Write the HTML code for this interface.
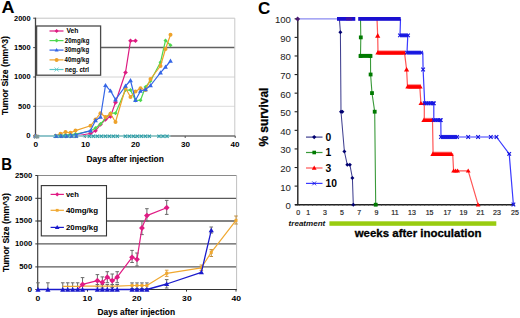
<!DOCTYPE html><html><head><meta charset="utf-8"><style>html,body{margin:0;padding:0;background:#fff;}svg{display:block;}</style></head><body>
<svg width="520" height="318" viewBox="0 0 520 318" font-family='"Liberation Sans", sans-serif'>
<rect width="520" height="318" fill="#fff"/>
<line x1="35.5" y1="18.2" x2="234.8" y2="18.2" stroke="#c4c4c4" stroke-width="1"/>
<line x1="35.5" y1="77" x2="234.8" y2="77" stroke="#d4d4d4" stroke-width="1"/>
<line x1="35.5" y1="106.3" x2="234.8" y2="106.3" stroke="#dcdcdc" stroke-width="1"/>
<line x1="35.5" y1="47.6" x2="234.8" y2="47.6" stroke="#606060" stroke-width="1.5"/>
<line x1="234.8" y1="18.2" x2="234.8" y2="136" stroke="#c8c8c8" stroke-width="1"/>
<line x1="35.5" y1="17.7" x2="35.5" y2="136.2" stroke="#444" stroke-width="1.3"/>
<line x1="35.5" y1="136" x2="235.3" y2="136" stroke="#707070" stroke-width="1.3"/>
<line x1="33.2" y1="18.2" x2="35.5" y2="18.2" stroke="#444" stroke-width="1"/>
<line x1="33.2" y1="47.6" x2="35.5" y2="47.6" stroke="#444" stroke-width="1"/>
<line x1="33.2" y1="77" x2="35.5" y2="77" stroke="#444" stroke-width="1"/>
<line x1="33.2" y1="106.3" x2="35.5" y2="106.3" stroke="#444" stroke-width="1"/>
<line x1="33.2" y1="135.7" x2="35.5" y2="135.7" stroke="#444" stroke-width="1"/>
<line x1="85.2" y1="136" x2="85.2" y2="138" stroke="#555" stroke-width="1"/>
<line x1="135.2" y1="136" x2="135.2" y2="138" stroke="#555" stroke-width="1"/>
<line x1="185.2" y1="136" x2="185.2" y2="138" stroke="#555" stroke-width="1"/>
<line x1="235.2" y1="136" x2="235.2" y2="138" stroke="#555" stroke-width="1"/>
<text x="14.1" y="20.5" font-size="6.4" font-weight="bold" font-style="normal" fill="#000" textLength="16.5" lengthAdjust="spacingAndGlyphs">2000</text>
<text x="14.1" y="49.9" font-size="6.4" font-weight="bold" font-style="normal" fill="#000" textLength="16.5" lengthAdjust="spacingAndGlyphs">1500</text>
<text x="14.1" y="79.3" font-size="6.4" font-weight="bold" font-style="normal" fill="#000" textLength="16.5" lengthAdjust="spacingAndGlyphs">1000</text>
<text x="18.1" y="108.6" font-size="6.4" font-weight="bold" font-style="normal" fill="#000" textLength="12.5" lengthAdjust="spacingAndGlyphs">500</text>
<text x="26.3" y="138" font-size="6.4" font-weight="bold" font-style="normal" fill="#000" textLength="4.3" lengthAdjust="spacingAndGlyphs">0</text>
<text x="33.6" y="147.3" font-size="6.4" font-weight="bold" font-style="normal" fill="#000" textLength="4.6" lengthAdjust="spacingAndGlyphs">0</text>
<text x="81.1" y="147.3" font-size="6.4" font-weight="bold" font-style="normal" fill="#000" textLength="9" lengthAdjust="spacingAndGlyphs">10</text>
<text x="131" y="147.3" font-size="6.4" font-weight="bold" font-style="normal" fill="#000" textLength="9" lengthAdjust="spacingAndGlyphs">20</text>
<text x="181" y="147.3" font-size="6.4" font-weight="bold" font-style="normal" fill="#000" textLength="9" lengthAdjust="spacingAndGlyphs">30</text>
<text x="230.5" y="147.3" font-size="6.4" font-weight="bold" font-style="normal" fill="#000" textLength="9" lengthAdjust="spacingAndGlyphs">40</text>
<text x="86.55" y="161.5" font-size="8.7" font-weight="bold" font-style="normal" fill="#000" stroke="#000" stroke-width="0.1" textLength="77.3" lengthAdjust="spacingAndGlyphs">Days after injection</text>
<text x="0" y="0" font-size="8.6" font-weight="bold" text-anchor="middle" stroke="#000" stroke-width="0.12" transform="translate(8.4,75.6) rotate(-90)" textLength="79" lengthAdjust="spacingAndGlyphs">Tumor Size (mm^3)</text>
<text x="1.5" y="12.6" font-size="17" font-weight="bold" font-style="normal" fill="#000" textLength="13" lengthAdjust="spacingAndGlyphs">A</text>
<polyline points="35.5,136 55.5,136 60.5,136 65.5,136 70.5,136 75.5,136 90.5,133.5 95.5,130.8 100.5,124.5 105.5,119.5 110.5,116.4 115.5,102.5 125.5,72.5 130.5,40.8 135.5,40.8" fill="none" stroke="#dd1a80" stroke-width="1.2" stroke-linejoin="round" />
<path d="M35.5 133.7L37.8 136L35.5 138.3L33.2 136Z" fill="#dd1a80"/>
<path d="M55.5 133.7L57.8 136L55.5 138.3L53.2 136Z" fill="#dd1a80"/>
<path d="M60.5 133.7L62.8 136L60.5 138.3L58.2 136Z" fill="#dd1a80"/>
<path d="M65.5 133.7L67.8 136L65.5 138.3L63.2 136Z" fill="#dd1a80"/>
<path d="M70.5 133.7L72.8 136L70.5 138.3L68.2 136Z" fill="#dd1a80"/>
<path d="M75.5 133.7L77.8 136L75.5 138.3L73.2 136Z" fill="#dd1a80"/>
<path d="M90.5 131.2L92.8 133.5L90.5 135.8L88.2 133.5Z" fill="#dd1a80"/>
<path d="M95.5 128.5L97.8 130.8L95.5 133.1L93.2 130.8Z" fill="#dd1a80"/>
<path d="M100.5 122.2L102.8 124.5L100.5 126.8L98.2 124.5Z" fill="#dd1a80"/>
<path d="M105.5 117.2L107.8 119.5L105.5 121.8L103.2 119.5Z" fill="#dd1a80"/>
<path d="M110.5 114.1L112.8 116.4L110.5 118.7L108.2 116.4Z" fill="#dd1a80"/>
<path d="M115.5 100.2L117.8 102.5L115.5 104.8L113.2 102.5Z" fill="#dd1a80"/>
<path d="M125.5 70.2L127.8 72.5L125.5 74.8L123.2 72.5Z" fill="#dd1a80"/>
<path d="M130.5 38.5L132.8 40.8L130.5 43.1L128.2 40.8Z" fill="#dd1a80"/>
<path d="M135.5 38.5L137.8 40.8L135.5 43.1L133.2 40.8Z" fill="#dd1a80"/>
<polyline points="35.5,136 55.5,136 60.5,135.5 65.5,135 70.5,134.5 75.5,134 90.5,131 95.5,128 100.5,124 110.5,113.2 115.5,113.2 125.5,90.1 130.5,90 135.5,100.5 140.5,100.2 145.5,87 150.5,81 160.5,62.2 165.5,40.5 170.5,45.2" fill="none" stroke="#4ed84e" stroke-width="1.2" stroke-linejoin="round" />
<path d="M35.5 134L37.5 136L35.5 138L33.5 136Z" fill="#4ed84e"/>
<path d="M55.5 134L57.5 136L55.5 138L53.5 136Z" fill="#4ed84e"/>
<path d="M60.5 133.5L62.5 135.5L60.5 137.5L58.5 135.5Z" fill="#4ed84e"/>
<path d="M65.5 133L67.5 135L65.5 137L63.5 135Z" fill="#4ed84e"/>
<path d="M70.5 132.5L72.5 134.5L70.5 136.5L68.5 134.5Z" fill="#4ed84e"/>
<path d="M75.5 132L77.5 134L75.5 136L73.5 134Z" fill="#4ed84e"/>
<path d="M90.5 129L92.5 131L90.5 133L88.5 131Z" fill="#4ed84e"/>
<path d="M95.5 126L97.5 128L95.5 130L93.5 128Z" fill="#4ed84e"/>
<path d="M100.5 122L102.5 124L100.5 126L98.5 124Z" fill="#4ed84e"/>
<path d="M110.5 111.2L112.5 113.2L110.5 115.2L108.5 113.2Z" fill="#4ed84e"/>
<path d="M115.5 111.2L117.5 113.2L115.5 115.2L113.5 113.2Z" fill="#4ed84e"/>
<path d="M125.5 88.1L127.5 90.1L125.5 92.1L123.5 90.1Z" fill="#4ed84e"/>
<path d="M130.5 88L132.5 90L130.5 92L128.5 90Z" fill="#4ed84e"/>
<path d="M135.5 98.5L137.5 100.5L135.5 102.5L133.5 100.5Z" fill="#4ed84e"/>
<path d="M140.5 98.2L142.5 100.2L140.5 102.2L138.5 100.2Z" fill="#4ed84e"/>
<path d="M145.5 85L147.5 87L145.5 89L143.5 87Z" fill="#4ed84e"/>
<path d="M150.5 79L152.5 81L150.5 83L148.5 81Z" fill="#4ed84e"/>
<path d="M160.5 60.2L162.5 62.2L160.5 64.2L158.5 62.2Z" fill="#4ed84e"/>
<path d="M165.5 38.5L167.5 40.5L165.5 42.5L163.5 40.5Z" fill="#4ed84e"/>
<path d="M170.5 43.2L172.5 45.2L170.5 47.2L168.5 45.2Z" fill="#4ed84e"/>
<polyline points="35.5,136 55.5,136 60.5,133.8 65.5,132 70.5,132.8 75.5,130.6 90.5,125.8 95.5,119.5 100.5,113.2 105.5,117 110.5,113.8 115.5,122 125.5,88 130.5,97 135.5,91.4 140.5,88.2 145.5,90 150.5,79 160.5,66 165.5,49 170.5,34.8" fill="none" stroke="#eea22a" stroke-width="1.2" stroke-linejoin="round" />
<circle cx="35.5" cy="136" r="2" fill="#eea22a"/>
<circle cx="55.5" cy="136" r="2" fill="#eea22a"/>
<circle cx="60.5" cy="133.8" r="2" fill="#eea22a"/>
<circle cx="65.5" cy="132" r="2" fill="#eea22a"/>
<circle cx="70.5" cy="132.8" r="2" fill="#eea22a"/>
<circle cx="75.5" cy="130.6" r="2" fill="#eea22a"/>
<circle cx="90.5" cy="125.8" r="2" fill="#eea22a"/>
<circle cx="95.5" cy="119.5" r="2" fill="#eea22a"/>
<circle cx="100.5" cy="113.2" r="2" fill="#eea22a"/>
<circle cx="105.5" cy="117" r="2" fill="#eea22a"/>
<circle cx="110.5" cy="113.8" r="2" fill="#eea22a"/>
<circle cx="115.5" cy="122" r="2" fill="#eea22a"/>
<circle cx="125.5" cy="88" r="2" fill="#eea22a"/>
<circle cx="130.5" cy="97" r="2" fill="#eea22a"/>
<circle cx="135.5" cy="91.4" r="2" fill="#eea22a"/>
<circle cx="140.5" cy="88.2" r="2" fill="#eea22a"/>
<circle cx="145.5" cy="90" r="2" fill="#eea22a"/>
<circle cx="150.5" cy="79" r="2" fill="#eea22a"/>
<circle cx="160.5" cy="66" r="2" fill="#eea22a"/>
<circle cx="165.5" cy="49" r="2" fill="#eea22a"/>
<circle cx="170.5" cy="34.8" r="2" fill="#eea22a"/>
<polyline points="35.5,136 55.5,136 60.5,135.8 65.5,135.6 70.5,135.2 75.5,134.8 90.5,130.6 95.5,120.5 100.5,117 105.5,85.3 110.5,90.8 115.5,99.6 125.5,86 130.5,80.5 135.5,100.2 140.5,91 145.5,89.5 150.5,85.5 160.5,72.6 165.5,67 170.5,61" fill="none" stroke="#3566e6" stroke-width="1.2" stroke-linejoin="round" />
<path d="M35.5 133.6L37.9 137.8L33.1 137.8Z" fill="#3566e6"/>
<path d="M55.5 133.6L57.9 137.8L53.1 137.8Z" fill="#3566e6"/>
<path d="M60.5 133.4L62.9 137.6L58.1 137.6Z" fill="#3566e6"/>
<path d="M65.5 133.2L67.9 137.4L63.1 137.4Z" fill="#3566e6"/>
<path d="M70.5 132.8L72.9 137L68.1 137Z" fill="#3566e6"/>
<path d="M75.5 132.4L77.9 136.6L73.1 136.6Z" fill="#3566e6"/>
<path d="M90.5 128.2L92.9 132.4L88.1 132.4Z" fill="#3566e6"/>
<path d="M95.5 118.1L97.9 122.3L93.1 122.3Z" fill="#3566e6"/>
<path d="M100.5 114.6L102.9 118.8L98.1 118.8Z" fill="#3566e6"/>
<path d="M105.5 82.9L107.9 87.1L103.1 87.1Z" fill="#3566e6"/>
<path d="M110.5 88.4L112.9 92.6L108.1 92.6Z" fill="#3566e6"/>
<path d="M115.5 97.2L117.9 101.4L113.1 101.4Z" fill="#3566e6"/>
<path d="M125.5 83.6L127.9 87.8L123.1 87.8Z" fill="#3566e6"/>
<path d="M130.5 78.1L132.9 82.3L128.1 82.3Z" fill="#3566e6"/>
<path d="M135.5 97.8L137.9 102L133.1 102Z" fill="#3566e6"/>
<path d="M140.5 88.6L142.9 92.8L138.1 92.8Z" fill="#3566e6"/>
<path d="M145.5 87.1L147.9 91.3L143.1 91.3Z" fill="#3566e6"/>
<path d="M150.5 83.1L152.9 87.3L148.1 87.3Z" fill="#3566e6"/>
<path d="M160.5 70.2L162.9 74.4L158.1 74.4Z" fill="#3566e6"/>
<path d="M165.5 64.6L167.9 68.8L163.1 68.8Z" fill="#3566e6"/>
<path d="M170.5 58.6L172.9 62.8L168.1 62.8Z" fill="#3566e6"/>
<polyline points="35.5,136 170.5,136" fill="none" stroke="#9adcdc" stroke-width="1.4" stroke-linejoin="round" />
<path d="M54.4 134.7L57.6 137.9M54.4 137.9L57.6 134.7" stroke="#2f9ea8" stroke-width="1.15" fill="none"/>
<path d="M58.4 134.7L61.6 137.9M58.4 137.9L61.6 134.7" stroke="#2f9ea8" stroke-width="1.15" fill="none"/>
<path d="M62.4 134.7L65.6 137.9M62.4 137.9L65.6 134.7" stroke="#2f9ea8" stroke-width="1.15" fill="none"/>
<path d="M66.4 134.7L69.6 137.9M66.4 137.9L69.6 134.7" stroke="#2f9ea8" stroke-width="1.15" fill="none"/>
<path d="M70.4 134.7L73.6 137.9M70.4 137.9L73.6 134.7" stroke="#2f9ea8" stroke-width="1.15" fill="none"/>
<path d="M74.4 134.7L77.6 137.9M74.4 137.9L77.6 134.7" stroke="#2f9ea8" stroke-width="1.15" fill="none"/>
<path d="M87.7 134.7L90.9 137.9M87.7 137.9L90.9 134.7" stroke="#2f9ea8" stroke-width="1.15" fill="none"/>
<path d="M91.7 134.7L94.9 137.9M91.7 137.9L94.9 134.7" stroke="#2f9ea8" stroke-width="1.15" fill="none"/>
<path d="M95.7 134.7L98.9 137.9M95.7 137.9L98.9 134.7" stroke="#2f9ea8" stroke-width="1.15" fill="none"/>
<path d="M99.7 134.7L102.9 137.9M99.7 137.9L102.9 134.7" stroke="#2f9ea8" stroke-width="1.15" fill="none"/>
<path d="M103.7 134.7L106.9 137.9M103.7 137.9L106.9 134.7" stroke="#2f9ea8" stroke-width="1.15" fill="none"/>
<path d="M107.7 134.7L110.9 137.9M107.7 137.9L110.9 134.7" stroke="#2f9ea8" stroke-width="1.15" fill="none"/>
<path d="M111.7 134.7L114.9 137.9M111.7 137.9L114.9 134.7" stroke="#2f9ea8" stroke-width="1.15" fill="none"/>
<path d="M115.7 134.7L118.9 137.9M115.7 137.9L118.9 134.7" stroke="#2f9ea8" stroke-width="1.15" fill="none"/>
<path d="M123.7 134.7L126.9 137.9M123.7 137.9L126.9 134.7" stroke="#2f9ea8" stroke-width="1.15" fill="none"/>
<path d="M127.7 134.7L130.9 137.9M127.7 137.9L130.9 134.7" stroke="#2f9ea8" stroke-width="1.15" fill="none"/>
<path d="M131.7 134.7L134.9 137.9M131.7 137.9L134.9 134.7" stroke="#2f9ea8" stroke-width="1.15" fill="none"/>
<path d="M135.7 134.7L138.9 137.9M135.7 137.9L138.9 134.7" stroke="#2f9ea8" stroke-width="1.15" fill="none"/>
<path d="M139.7 134.7L142.9 137.9M139.7 137.9L142.9 134.7" stroke="#2f9ea8" stroke-width="1.15" fill="none"/>
<path d="M143.7 134.7L146.9 137.9M143.7 137.9L146.9 134.7" stroke="#2f9ea8" stroke-width="1.15" fill="none"/>
<path d="M147.7 134.7L150.9 137.9M147.7 137.9L150.9 134.7" stroke="#2f9ea8" stroke-width="1.15" fill="none"/>
<path d="M157.4 134.7L160.6 137.9M157.4 137.9L160.6 134.7" stroke="#2f9ea8" stroke-width="1.15" fill="none"/>
<path d="M161.4 134.7L164.6 137.9M161.4 137.9L164.6 134.7" stroke="#2f9ea8" stroke-width="1.15" fill="none"/>
<path d="M165.4 134.7L168.6 137.9M165.4 137.9L168.6 134.7" stroke="#2f9ea8" stroke-width="1.15" fill="none"/>
<path d="M56.5 134.2L58.5 137.7L54.5 137.7Z" fill="#3a6ad0"/>
<path d="M61.5 134.2L63.5 137.7L59.5 137.7Z" fill="#3a6ad0"/>
<path d="M66.5 134.2L68.5 137.7L64.5 137.7Z" fill="#3a6ad0"/>
<path d="M71.5 134.2L73.5 137.7L69.5 137.7Z" fill="#3a6ad0"/>
<path d="M76.5 134.2L78.5 137.7L74.5 137.7Z" fill="#3a6ad0"/>
<path d="M83.6 135.3L85.6 137.3M83.6 137.3L85.6 135.3" stroke="#2f9ea8" stroke-width="1.0" fill="none"/>
<path d="M34 134.8L37.6 138.4M34 138.4L37.6 134.8" stroke="#7f9898" stroke-width="1.5" fill="none"/>
<path d="M36 135L39.2 138.2M36 138.2L39.2 135" stroke="#7f9898" stroke-width="1.3" fill="none"/>
<rect x="36.6" y="26" width="64" height="49.2" fill="#fff" stroke="#4a4a4a" stroke-width="1.3"/>
<line x1="49.5" y1="31" x2="63.5" y2="31" stroke="#dd1a80" stroke-width="1.2"/>
<path d="M56.6 29L58.6 31L56.6 33L54.6 31Z" fill="#dd1a80"/>
<text x="66.4" y="33.1" font-size="6.4" font-weight="bold" font-style="normal" fill="#000" textLength="12" lengthAdjust="spacingAndGlyphs">Veh</text>
<line x1="49.5" y1="40.6" x2="63.5" y2="40.6" stroke="#4ed84e" stroke-width="1.2"/>
<path d="M56.6 38.6L58.6 40.6L56.6 42.6L54.6 40.6Z" fill="#4ed84e"/>
<text x="64.8" y="42.7" font-size="6.4" font-weight="bold" font-style="normal" fill="#000" textLength="24.6" lengthAdjust="spacingAndGlyphs">20mg/kg</text>
<line x1="49.5" y1="50.1" x2="63.5" y2="50.1" stroke="#3566e6" stroke-width="1.2"/>
<path d="M56.6 48.1L58.6 51.6L54.6 51.6Z" fill="#3566e6"/>
<text x="64.6" y="52.2" font-size="6.4" font-weight="bold" font-style="normal" fill="#000" textLength="24.5" lengthAdjust="spacingAndGlyphs">30mg/kg</text>
<line x1="49.5" y1="59.9" x2="63.5" y2="59.9" stroke="#eea22a" stroke-width="1.2"/>
<circle cx="56.6" cy="59.9" r="2" fill="#eea22a"/>
<text x="64.6" y="62" font-size="6.4" font-weight="bold" font-style="normal" fill="#000" textLength="24.5" lengthAdjust="spacingAndGlyphs">40mg/kg</text>
<line x1="49.5" y1="69.5" x2="63.5" y2="69.5" stroke="#5cc8c8" stroke-width="1.2"/>
<path d="M54.6 67.5L58.6 71.5M54.6 71.5L58.6 67.5" stroke="#5cc8c8" stroke-width="0.9" fill="none"/>
<text x="64.9" y="71.6" font-size="6.4" font-weight="bold" font-style="normal" fill="#000" textLength="24.2" lengthAdjust="spacingAndGlyphs">neg. ctrl</text>
<line x1="37.7" y1="175.5" x2="236.6" y2="175.5" stroke="#8a8a8a" stroke-width="1"/>
<line x1="37.7" y1="198.3" x2="236.6" y2="198.3" stroke="#5a5a5a" stroke-width="1.3"/>
<line x1="37.7" y1="221" x2="236.6" y2="221" stroke="#5a5a5a" stroke-width="1.3"/>
<line x1="37.7" y1="243.9" x2="236.6" y2="243.9" stroke="#5a5a5a" stroke-width="1.3"/>
<line x1="37.7" y1="266.9" x2="236.6" y2="266.9" stroke="#5a5a5a" stroke-width="1.3"/>
<line x1="236.6" y1="175.5" x2="236.6" y2="289.5" stroke="#c0c0c0" stroke-width="1"/>
<line x1="37.7" y1="175.3" x2="37.7" y2="290" stroke="#333" stroke-width="1.1"/>
<line x1="37.7" y1="289.5" x2="236.8" y2="289.5" stroke="#333" stroke-width="1.2"/>
<line x1="35.3" y1="175.5" x2="37.7" y2="175.5" stroke="#333" stroke-width="1"/>
<line x1="35.3" y1="198.3" x2="37.7" y2="198.3" stroke="#333" stroke-width="1"/>
<line x1="35.3" y1="221" x2="37.7" y2="221" stroke="#333" stroke-width="1"/>
<line x1="35.3" y1="243.9" x2="37.7" y2="243.9" stroke="#333" stroke-width="1"/>
<line x1="35.3" y1="266.9" x2="37.7" y2="266.9" stroke="#333" stroke-width="1"/>
<line x1="35.3" y1="289.5" x2="37.7" y2="289.5" stroke="#333" stroke-width="1"/>
<line x1="87.5" y1="289.5" x2="87.5" y2="291.6" stroke="#333" stroke-width="1"/>
<line x1="137" y1="289.5" x2="137" y2="291.6" stroke="#333" stroke-width="1"/>
<line x1="186.5" y1="289.5" x2="186.5" y2="291.6" stroke="#333" stroke-width="1"/>
<line x1="236" y1="289.5" x2="236" y2="291.6" stroke="#333" stroke-width="1"/>
<text x="15.1" y="177.9" font-size="6.6" font-weight="bold" font-style="normal" fill="#000" textLength="17.1" lengthAdjust="spacingAndGlyphs">2500</text>
<text x="15.1" y="200.7" font-size="6.6" font-weight="bold" font-style="normal" fill="#000" textLength="17.1" lengthAdjust="spacingAndGlyphs">2000</text>
<text x="15.1" y="223.4" font-size="6.6" font-weight="bold" font-style="normal" fill="#000" textLength="17.1" lengthAdjust="spacingAndGlyphs">1500</text>
<text x="15.1" y="246.3" font-size="6.6" font-weight="bold" font-style="normal" fill="#000" textLength="17.1" lengthAdjust="spacingAndGlyphs">1000</text>
<text x="19.3" y="269.3" font-size="6.6" font-weight="bold" font-style="normal" fill="#000" textLength="12.9" lengthAdjust="spacingAndGlyphs">500</text>
<text x="27.6" y="291.9" font-size="6.6" font-weight="bold" font-style="normal" fill="#000" textLength="4.6" lengthAdjust="spacingAndGlyphs">0</text>
<text x="35.6" y="300.7" font-size="6.6" font-weight="bold" font-style="normal" fill="#000" textLength="4.8" lengthAdjust="spacingAndGlyphs">0</text>
<text x="82.6" y="300.7" font-size="6.6" font-weight="bold" font-style="normal" fill="#000" textLength="9.6" lengthAdjust="spacingAndGlyphs">10</text>
<text x="132" y="300.7" font-size="6.6" font-weight="bold" font-style="normal" fill="#000" textLength="9.6" lengthAdjust="spacingAndGlyphs">20</text>
<text x="182.1" y="300.7" font-size="6.6" font-weight="bold" font-style="normal" fill="#000" textLength="9.6" lengthAdjust="spacingAndGlyphs">30</text>
<text x="231.4" y="300.7" font-size="6.6" font-weight="bold" font-style="normal" fill="#000" textLength="9.6" lengthAdjust="spacingAndGlyphs">40</text>
<text x="97.55" y="314.9" font-size="8.7" font-weight="bold" font-style="normal" fill="#000" stroke="#000" stroke-width="0.1" textLength="77.5" lengthAdjust="spacingAndGlyphs">Days after injection</text>
<text x="0" y="0" font-size="8.6" font-weight="bold" text-anchor="middle" stroke="#000" stroke-width="0.12" transform="translate(8.6,232.6) rotate(-90)" textLength="79" lengthAdjust="spacingAndGlyphs">Tumor Size (mm^3)</text>
<text x="1.3" y="170.1" font-size="15.8" font-weight="bold" font-style="normal" fill="#000" textLength="10.8" lengthAdjust="spacingAndGlyphs">B</text>
<line x1="38" y1="282.8" x2="38" y2="289.5" stroke="#6a6a6a" stroke-width="1.0"/>
<line x1="36.2" y1="282.8" x2="39.8" y2="282.8" stroke="#6a6a6a" stroke-width="1.0"/>
<line x1="36.2" y1="289.5" x2="39.8" y2="289.5" stroke="#6a6a6a" stroke-width="1.0"/>
<line x1="47.9" y1="282.8" x2="47.9" y2="289.5" stroke="#6a6a6a" stroke-width="1.0"/>
<line x1="46.1" y1="282.8" x2="49.7" y2="282.8" stroke="#6a6a6a" stroke-width="1.0"/>
<line x1="46.1" y1="289.5" x2="49.7" y2="289.5" stroke="#6a6a6a" stroke-width="1.0"/>
<line x1="62.75" y1="282.8" x2="62.75" y2="289.5" stroke="#6a6a6a" stroke-width="1.0"/>
<line x1="60.95" y1="282.8" x2="64.55" y2="282.8" stroke="#6a6a6a" stroke-width="1.0"/>
<line x1="60.95" y1="289.5" x2="64.55" y2="289.5" stroke="#6a6a6a" stroke-width="1.0"/>
<line x1="67.7" y1="282.8" x2="67.7" y2="289.5" stroke="#6a6a6a" stroke-width="1.0"/>
<line x1="65.9" y1="282.8" x2="69.5" y2="282.8" stroke="#6a6a6a" stroke-width="1.0"/>
<line x1="65.9" y1="289.5" x2="69.5" y2="289.5" stroke="#6a6a6a" stroke-width="1.0"/>
<line x1="72.65" y1="282.8" x2="72.65" y2="289.5" stroke="#6a6a6a" stroke-width="1.0"/>
<line x1="70.85" y1="282.8" x2="74.45" y2="282.8" stroke="#6a6a6a" stroke-width="1.0"/>
<line x1="70.85" y1="289.5" x2="74.45" y2="289.5" stroke="#6a6a6a" stroke-width="1.0"/>
<line x1="77.6" y1="282.8" x2="77.6" y2="289.5" stroke="#6a6a6a" stroke-width="1.0"/>
<line x1="75.8" y1="282.8" x2="79.4" y2="282.8" stroke="#6a6a6a" stroke-width="1.0"/>
<line x1="75.8" y1="289.5" x2="79.4" y2="289.5" stroke="#6a6a6a" stroke-width="1.0"/>
<line x1="97.4" y1="284.5" x2="97.4" y2="289.5" stroke="#6a6a6a" stroke-width="1.0"/>
<line x1="95.6" y1="284.5" x2="99.2" y2="284.5" stroke="#6a6a6a" stroke-width="1.0"/>
<line x1="95.6" y1="289.5" x2="99.2" y2="289.5" stroke="#6a6a6a" stroke-width="1.0"/>
<line x1="102.35" y1="284.5" x2="102.35" y2="289.5" stroke="#6a6a6a" stroke-width="1.0"/>
<line x1="100.55" y1="284.5" x2="104.15" y2="284.5" stroke="#6a6a6a" stroke-width="1.0"/>
<line x1="100.55" y1="289.5" x2="104.15" y2="289.5" stroke="#6a6a6a" stroke-width="1.0"/>
<line x1="107.3" y1="284.5" x2="107.3" y2="289.5" stroke="#6a6a6a" stroke-width="1.0"/>
<line x1="105.5" y1="284.5" x2="109.1" y2="284.5" stroke="#6a6a6a" stroke-width="1.0"/>
<line x1="105.5" y1="289.5" x2="109.1" y2="289.5" stroke="#6a6a6a" stroke-width="1.0"/>
<line x1="112.25" y1="284.5" x2="112.25" y2="289.5" stroke="#6a6a6a" stroke-width="1.0"/>
<line x1="110.45" y1="284.5" x2="114.05" y2="284.5" stroke="#6a6a6a" stroke-width="1.0"/>
<line x1="110.45" y1="289.5" x2="114.05" y2="289.5" stroke="#6a6a6a" stroke-width="1.0"/>
<line x1="117.2" y1="284.5" x2="117.2" y2="289.5" stroke="#6a6a6a" stroke-width="1.0"/>
<line x1="115.4" y1="284.5" x2="119" y2="284.5" stroke="#6a6a6a" stroke-width="1.0"/>
<line x1="115.4" y1="289.5" x2="119" y2="289.5" stroke="#6a6a6a" stroke-width="1.0"/>
<line x1="132.05" y1="282.9" x2="132.05" y2="288.5" stroke="#6a6a6a" stroke-width="1.0"/>
<line x1="130.25" y1="282.9" x2="133.85" y2="282.9" stroke="#6a6a6a" stroke-width="1.0"/>
<line x1="130.25" y1="288.5" x2="133.85" y2="288.5" stroke="#6a6a6a" stroke-width="1.0"/>
<line x1="137" y1="282.9" x2="137" y2="288.5" stroke="#6a6a6a" stroke-width="1.0"/>
<line x1="135.2" y1="282.9" x2="138.8" y2="282.9" stroke="#6a6a6a" stroke-width="1.0"/>
<line x1="135.2" y1="288.5" x2="138.8" y2="288.5" stroke="#6a6a6a" stroke-width="1.0"/>
<line x1="141.95" y1="282.9" x2="141.95" y2="288.5" stroke="#6a6a6a" stroke-width="1.0"/>
<line x1="140.15" y1="282.9" x2="143.75" y2="282.9" stroke="#6a6a6a" stroke-width="1.0"/>
<line x1="140.15" y1="288.5" x2="143.75" y2="288.5" stroke="#6a6a6a" stroke-width="1.0"/>
<line x1="146.9" y1="282.9" x2="146.9" y2="288.5" stroke="#6a6a6a" stroke-width="1.0"/>
<line x1="145.1" y1="282.9" x2="148.7" y2="282.9" stroke="#6a6a6a" stroke-width="1.0"/>
<line x1="145.1" y1="288.5" x2="148.7" y2="288.5" stroke="#6a6a6a" stroke-width="1.0"/>
<line x1="82.55" y1="277.6" x2="82.55" y2="290" stroke="#6a6a6a" stroke-width="1.0"/>
<line x1="80.75" y1="277.6" x2="84.35" y2="277.6" stroke="#6a6a6a" stroke-width="1.0"/>
<line x1="80.75" y1="290" x2="84.35" y2="290" stroke="#6a6a6a" stroke-width="1.0"/>
<line x1="97.4" y1="274.6" x2="97.4" y2="286.8" stroke="#6a6a6a" stroke-width="1.0"/>
<line x1="95.6" y1="274.6" x2="99.2" y2="274.6" stroke="#6a6a6a" stroke-width="1.0"/>
<line x1="95.6" y1="286.8" x2="99.2" y2="286.8" stroke="#6a6a6a" stroke-width="1.0"/>
<line x1="102.35" y1="276.9" x2="102.35" y2="288" stroke="#6a6a6a" stroke-width="1.0"/>
<line x1="100.55" y1="276.9" x2="104.15" y2="276.9" stroke="#6a6a6a" stroke-width="1.0"/>
<line x1="100.55" y1="288" x2="104.15" y2="288" stroke="#6a6a6a" stroke-width="1.0"/>
<line x1="107.3" y1="271.7" x2="107.3" y2="282.7" stroke="#6a6a6a" stroke-width="1.0"/>
<line x1="105.5" y1="271.7" x2="109.1" y2="271.7" stroke="#6a6a6a" stroke-width="1.0"/>
<line x1="105.5" y1="282.7" x2="109.1" y2="282.7" stroke="#6a6a6a" stroke-width="1.0"/>
<line x1="112.25" y1="274" x2="112.25" y2="287.4" stroke="#6a6a6a" stroke-width="1.0"/>
<line x1="110.45" y1="274" x2="114.05" y2="274" stroke="#6a6a6a" stroke-width="1.0"/>
<line x1="110.45" y1="287.4" x2="114.05" y2="287.4" stroke="#6a6a6a" stroke-width="1.0"/>
<line x1="117.2" y1="271.7" x2="117.2" y2="282.7" stroke="#6a6a6a" stroke-width="1.0"/>
<line x1="115.4" y1="271.7" x2="119" y2="271.7" stroke="#6a6a6a" stroke-width="1.0"/>
<line x1="115.4" y1="282.7" x2="119" y2="282.7" stroke="#6a6a6a" stroke-width="1.0"/>
<line x1="132.05" y1="250.4" x2="132.05" y2="262.5" stroke="#6a6a6a" stroke-width="1.0"/>
<line x1="130.25" y1="250.4" x2="133.85" y2="250.4" stroke="#6a6a6a" stroke-width="1.0"/>
<line x1="130.25" y1="262.5" x2="133.85" y2="262.5" stroke="#6a6a6a" stroke-width="1.0"/>
<line x1="137" y1="253" x2="137" y2="266" stroke="#6a6a6a" stroke-width="1.0"/>
<line x1="135.2" y1="253" x2="138.8" y2="253" stroke="#6a6a6a" stroke-width="1.0"/>
<line x1="135.2" y1="266" x2="138.8" y2="266" stroke="#6a6a6a" stroke-width="1.0"/>
<line x1="141.95" y1="221.4" x2="141.95" y2="234.6" stroke="#6a6a6a" stroke-width="1.0"/>
<line x1="140.15" y1="221.4" x2="143.75" y2="221.4" stroke="#6a6a6a" stroke-width="1.0"/>
<line x1="140.15" y1="234.6" x2="143.75" y2="234.6" stroke="#6a6a6a" stroke-width="1.0"/>
<line x1="146.9" y1="208.7" x2="146.9" y2="221" stroke="#6a6a6a" stroke-width="1.0"/>
<line x1="145.1" y1="208.7" x2="148.7" y2="208.7" stroke="#6a6a6a" stroke-width="1.0"/>
<line x1="145.1" y1="221" x2="148.7" y2="221" stroke="#6a6a6a" stroke-width="1.0"/>
<line x1="166.7" y1="200.4" x2="166.7" y2="214.4" stroke="#6a6a6a" stroke-width="1.0"/>
<line x1="164.9" y1="200.4" x2="168.5" y2="200.4" stroke="#6a6a6a" stroke-width="1.0"/>
<line x1="164.9" y1="214.4" x2="168.5" y2="214.4" stroke="#6a6a6a" stroke-width="1.0"/>
<line x1="166.7" y1="270.2" x2="166.7" y2="276.4" stroke="#e0a040" stroke-width="1.0"/>
<line x1="164.9" y1="270.2" x2="168.5" y2="270.2" stroke="#e0a040" stroke-width="1.0"/>
<line x1="164.9" y1="276.4" x2="168.5" y2="276.4" stroke="#e0a040" stroke-width="1.0"/>
<line x1="201.35" y1="265" x2="201.35" y2="270.5" stroke="#e0a040" stroke-width="1.0"/>
<line x1="199.55" y1="265" x2="203.15" y2="265" stroke="#e0a040" stroke-width="1.0"/>
<line x1="199.55" y1="270.5" x2="203.15" y2="270.5" stroke="#e0a040" stroke-width="1.0"/>
<line x1="211.25" y1="249.6" x2="211.25" y2="256.5" stroke="#c09040" stroke-width="1.0"/>
<line x1="209.45" y1="249.6" x2="213.05" y2="249.6" stroke="#c09040" stroke-width="1.0"/>
<line x1="209.45" y1="256.5" x2="213.05" y2="256.5" stroke="#c09040" stroke-width="1.0"/>
<line x1="236" y1="216" x2="236" y2="224" stroke="#c09040" stroke-width="1.0"/>
<line x1="234.2" y1="216" x2="237.8" y2="216" stroke="#c09040" stroke-width="1.0"/>
<line x1="234.2" y1="224" x2="237.8" y2="224" stroke="#c09040" stroke-width="1.0"/>
<line x1="166.7" y1="279.6" x2="166.7" y2="288" stroke="#6a6a6a" stroke-width="1.0"/>
<line x1="164.9" y1="279.6" x2="168.5" y2="279.6" stroke="#6a6a6a" stroke-width="1.0"/>
<line x1="164.9" y1="288" x2="168.5" y2="288" stroke="#6a6a6a" stroke-width="1.0"/>
<line x1="211.25" y1="227" x2="211.25" y2="233" stroke="#6a6a6a" stroke-width="1.0"/>
<line x1="209.45" y1="227" x2="213.05" y2="227" stroke="#6a6a6a" stroke-width="1.0"/>
<line x1="209.45" y1="233" x2="213.05" y2="233" stroke="#6a6a6a" stroke-width="1.0"/>
<polyline points="62.75,286.4 67.7,286.4 72.65,286.4 77.6,286.4 82.55,286.2 97.4,286.2 102.35,286.2 107.3,286.2 112.25,286.2 117.2,286.2 132.05,285.5 137,285.5 141.95,285.5 146.9,285.5 166.7,273.3 201.35,267.8 211.25,252.4 236,220.4" fill="none" stroke="#f0a830" stroke-width="1.2" stroke-linejoin="round" />
<rect x="130.55" y="284" width="3" height="3" fill="#f0a830"/>
<rect x="135.5" y="284" width="3" height="3" fill="#f0a830"/>
<rect x="140.45" y="284" width="3" height="3" fill="#f0a830"/>
<rect x="145.4" y="284" width="3" height="3" fill="#f0a830"/>
<rect x="165.2" y="271.8" width="3" height="3" fill="#f0a830"/>
<rect x="199.85" y="266.3" width="3" height="3" fill="#f0a830"/>
<rect x="209.75" y="250.9" width="3" height="3" fill="#f0a830"/>
<rect x="234.5" y="218.9" width="3" height="3" fill="#f0a830"/>
<polyline points="38,289.5 77.6,289.5 82.55,284.4 97.4,280.7 102.35,282.4 107.3,277.2 112.25,280.7 117.2,277.2 132.05,257.3 137,259.3 141.95,228 146.9,215.6 166.7,207.7" fill="none" stroke="#e01b84" stroke-width="1.2" stroke-linejoin="round" />
<path d="M82.55 281.5L85.45 284.4L82.55 287.3L79.65 284.4Z" fill="#e01b84"/>
<path d="M97.4 277.8L100.3 280.7L97.4 283.6L94.5 280.7Z" fill="#e01b84"/>
<path d="M102.35 279.5L105.25 282.4L102.35 285.3L99.45 282.4Z" fill="#e01b84"/>
<path d="M107.3 274.3L110.2 277.2L107.3 280.1L104.4 277.2Z" fill="#e01b84"/>
<path d="M112.25 277.8L115.15 280.7L112.25 283.6L109.35 280.7Z" fill="#e01b84"/>
<path d="M117.2 274.3L120.1 277.2L117.2 280.1L114.3 277.2Z" fill="#e01b84"/>
<path d="M132.05 254.4L134.95 257.3L132.05 260.2L129.15 257.3Z" fill="#e01b84"/>
<path d="M137 256.4L139.9 259.3L137 262.2L134.1 259.3Z" fill="#e01b84"/>
<path d="M141.95 225.1L144.85 228L141.95 230.9L139.05 228Z" fill="#e01b84"/>
<path d="M146.9 212.7L149.8 215.6L146.9 218.5L144 215.6Z" fill="#e01b84"/>
<path d="M166.7 204.8L169.6 207.7L166.7 210.6L163.8 207.7Z" fill="#e01b84"/>
<polyline points="38,289.5 146.9,289.5 166.7,284 201.35,272.3 211.25,230.3" fill="none" stroke="#1a1acc" stroke-width="1.3" stroke-linejoin="round" />
<path d="M38 287.1L40.6 291.65L35.4 291.65Z" fill="#1a1acc"/>
<path d="M47.9 287.1L50.5 291.65L45.3 291.65Z" fill="#1a1acc"/>
<path d="M62.75 287.1L65.35 291.65L60.15 291.65Z" fill="#1a1acc"/>
<path d="M67.7 287.1L70.3 291.65L65.1 291.65Z" fill="#1a1acc"/>
<path d="M72.65 287.1L75.25 291.65L70.05 291.65Z" fill="#1a1acc"/>
<path d="M77.6 287.1L80.2 291.65L75 291.65Z" fill="#1a1acc"/>
<path d="M82.55 287.1L85.15 291.65L79.95 291.65Z" fill="#1a1acc"/>
<path d="M97.4 287.1L100 291.65L94.8 291.65Z" fill="#1a1acc"/>
<path d="M102.35 287.1L104.95 291.65L99.75 291.65Z" fill="#1a1acc"/>
<path d="M107.3 287.1L109.9 291.65L104.7 291.65Z" fill="#1a1acc"/>
<path d="M112.25 287.1L114.85 291.65L109.65 291.65Z" fill="#1a1acc"/>
<path d="M117.2 287.1L119.8 291.65L114.6 291.65Z" fill="#1a1acc"/>
<path d="M132.05 287.1L134.65 291.65L129.45 291.65Z" fill="#1a1acc"/>
<path d="M137 287.1L139.6 291.65L134.4 291.65Z" fill="#1a1acc"/>
<path d="M141.95 287.1L144.55 291.65L139.35 291.65Z" fill="#1a1acc"/>
<path d="M146.9 287.1L149.5 291.65L144.3 291.65Z" fill="#1a1acc"/>
<path d="M166.7 281.4L169.3 285.95L164.1 285.95Z" fill="#1a1acc"/>
<path d="M201.35 269.7L203.95 274.25L198.75 274.25Z" fill="#1a1acc"/>
<path d="M211.25 227.7L213.85 232.25L208.65 232.25Z" fill="#1a1acc"/>
<rect x="41.3" y="185.6" width="65.2" height="50.3" fill="#fff" stroke="#333" stroke-width="1.1"/>
<line x1="50.6" y1="194.4" x2="63.9" y2="194.4" stroke="#e01b84" stroke-width="1.2"/>
<path d="M57.2 192.3L59.3 194.4L57.2 196.5L55.1 194.4Z" fill="#e01b84"/>
<text x="65.9" y="196.7" font-size="6.9" font-weight="bold" font-style="normal" fill="#000" textLength="13.1" lengthAdjust="spacingAndGlyphs">veh</text>
<line x1="50.6" y1="210.3" x2="63.9" y2="210.3" stroke="#f0a830" stroke-width="1.2"/>
<rect x="55.8" y="208.9" width="2.8" height="2.8" fill="#f0a830"/>
<text x="65.9" y="212.6" font-size="6.9" font-weight="bold" font-style="normal" fill="#000" textLength="32.2" lengthAdjust="spacingAndGlyphs">40mg/kg</text>
<line x1="50.6" y1="227.4" x2="63.9" y2="227.4" stroke="#1a1acc" stroke-width="1.2"/>
<path d="M57.2 225.1L59.5 229.12L54.9 229.12Z" fill="#1a1acc"/>
<text x="65.9" y="229.7" font-size="6.9" font-weight="bold" font-style="normal" fill="#000" textLength="32.2" lengthAdjust="spacingAndGlyphs">20mg/kg</text>
<line x1="297.8" y1="18.6" x2="297.8" y2="205.2" stroke="#222" stroke-width="1.4"/>
<line x1="295" y1="204.7" x2="514.5" y2="204.7" stroke="#222" stroke-width="1.4"/>
<line x1="294.6" y1="204.7" x2="297.8" y2="204.7" stroke="#222" stroke-width="1.1"/>
<line x1="294.6" y1="186.11" x2="297.8" y2="186.11" stroke="#222" stroke-width="1.1"/>
<line x1="294.6" y1="167.52" x2="297.8" y2="167.52" stroke="#222" stroke-width="1.1"/>
<line x1="294.6" y1="148.93" x2="297.8" y2="148.93" stroke="#222" stroke-width="1.1"/>
<line x1="294.6" y1="130.34" x2="297.8" y2="130.34" stroke="#222" stroke-width="1.1"/>
<line x1="294.6" y1="111.75" x2="297.8" y2="111.75" stroke="#222" stroke-width="1.1"/>
<line x1="294.6" y1="93.16" x2="297.8" y2="93.16" stroke="#222" stroke-width="1.1"/>
<line x1="294.6" y1="74.57" x2="297.8" y2="74.57" stroke="#222" stroke-width="1.1"/>
<line x1="294.6" y1="55.98" x2="297.8" y2="55.98" stroke="#222" stroke-width="1.1"/>
<line x1="294.6" y1="37.39" x2="297.8" y2="37.39" stroke="#222" stroke-width="1.1"/>
<line x1="294.6" y1="18.8" x2="297.8" y2="18.8" stroke="#222" stroke-width="1.1"/>
<text x="290.9" y="209.1" font-size="9.6" font-weight="normal" font-style="normal" text-anchor="end" fill="#1a1a1a" >0</text>
<text x="290.9" y="190.51" font-size="9.6" font-weight="normal" font-style="normal" text-anchor="end" fill="#1a1a1a" >10</text>
<text x="290.9" y="171.92" font-size="9.6" font-weight="normal" font-style="normal" text-anchor="end" fill="#1a1a1a" >20</text>
<text x="290.9" y="153.33" font-size="9.6" font-weight="normal" font-style="normal" text-anchor="end" fill="#1a1a1a" >30</text>
<text x="290.9" y="134.74" font-size="9.6" font-weight="normal" font-style="normal" text-anchor="end" fill="#1a1a1a" >40</text>
<text x="290.9" y="116.15" font-size="9.6" font-weight="normal" font-style="normal" text-anchor="end" fill="#1a1a1a" >50</text>
<text x="290.9" y="97.56" font-size="9.6" font-weight="normal" font-style="normal" text-anchor="end" fill="#1a1a1a" >60</text>
<text x="290.9" y="78.97" font-size="9.6" font-weight="normal" font-style="normal" text-anchor="end" fill="#1a1a1a" >70</text>
<text x="290.9" y="60.38" font-size="9.6" font-weight="normal" font-style="normal" text-anchor="end" fill="#1a1a1a" >80</text>
<text x="290.9" y="41.79" font-size="9.6" font-weight="normal" font-style="normal" text-anchor="end" fill="#1a1a1a" >90</text>
<text x="290.9" y="23.2" font-size="9.6" font-weight="normal" font-style="normal" text-anchor="end" fill="#1a1a1a" >100</text>
<line x1="299.6" y1="204.4" x2="299.6" y2="205.8" stroke="#444" stroke-width="0.7"/>
<line x1="303.91" y1="204.4" x2="303.91" y2="205.8" stroke="#444" stroke-width="0.7"/>
<line x1="308.22" y1="204.4" x2="308.22" y2="205.8" stroke="#444" stroke-width="0.7"/>
<line x1="312.53" y1="204.4" x2="312.53" y2="205.8" stroke="#444" stroke-width="0.7"/>
<line x1="316.84" y1="204.4" x2="316.84" y2="205.8" stroke="#444" stroke-width="0.7"/>
<line x1="321.15" y1="204.4" x2="321.15" y2="205.8" stroke="#444" stroke-width="0.7"/>
<line x1="325.46" y1="204.4" x2="325.46" y2="205.8" stroke="#444" stroke-width="0.7"/>
<line x1="329.77" y1="204.4" x2="329.77" y2="205.8" stroke="#444" stroke-width="0.7"/>
<line x1="334.08" y1="204.4" x2="334.08" y2="205.8" stroke="#444" stroke-width="0.7"/>
<line x1="338.39" y1="204.4" x2="338.39" y2="205.8" stroke="#444" stroke-width="0.7"/>
<line x1="342.7" y1="204.4" x2="342.7" y2="205.8" stroke="#444" stroke-width="0.7"/>
<line x1="347.01" y1="204.4" x2="347.01" y2="205.8" stroke="#444" stroke-width="0.7"/>
<line x1="351.32" y1="204.4" x2="351.32" y2="205.8" stroke="#444" stroke-width="0.7"/>
<line x1="355.63" y1="204.4" x2="355.63" y2="205.8" stroke="#444" stroke-width="0.7"/>
<line x1="359.94" y1="204.4" x2="359.94" y2="205.8" stroke="#444" stroke-width="0.7"/>
<line x1="364.25" y1="204.4" x2="364.25" y2="205.8" stroke="#444" stroke-width="0.7"/>
<line x1="368.56" y1="204.4" x2="368.56" y2="205.8" stroke="#444" stroke-width="0.7"/>
<line x1="372.87" y1="204.4" x2="372.87" y2="205.8" stroke="#444" stroke-width="0.7"/>
<line x1="377.18" y1="204.4" x2="377.18" y2="205.8" stroke="#444" stroke-width="0.7"/>
<line x1="381.49" y1="204.4" x2="381.49" y2="205.8" stroke="#444" stroke-width="0.7"/>
<line x1="385.8" y1="204.4" x2="385.8" y2="205.8" stroke="#444" stroke-width="0.7"/>
<line x1="390.11" y1="204.4" x2="390.11" y2="205.8" stroke="#444" stroke-width="0.7"/>
<line x1="394.42" y1="204.4" x2="394.42" y2="205.8" stroke="#444" stroke-width="0.7"/>
<line x1="398.73" y1="204.4" x2="398.73" y2="205.8" stroke="#444" stroke-width="0.7"/>
<line x1="403.04" y1="204.4" x2="403.04" y2="205.8" stroke="#444" stroke-width="0.7"/>
<line x1="407.35" y1="204.4" x2="407.35" y2="205.8" stroke="#444" stroke-width="0.7"/>
<line x1="411.66" y1="204.4" x2="411.66" y2="205.8" stroke="#444" stroke-width="0.7"/>
<line x1="415.97" y1="204.4" x2="415.97" y2="205.8" stroke="#444" stroke-width="0.7"/>
<line x1="420.28" y1="204.4" x2="420.28" y2="205.8" stroke="#444" stroke-width="0.7"/>
<line x1="424.59" y1="204.4" x2="424.59" y2="205.8" stroke="#444" stroke-width="0.7"/>
<line x1="428.9" y1="204.4" x2="428.9" y2="205.8" stroke="#444" stroke-width="0.7"/>
<line x1="433.21" y1="204.4" x2="433.21" y2="205.8" stroke="#444" stroke-width="0.7"/>
<line x1="437.52" y1="204.4" x2="437.52" y2="205.8" stroke="#444" stroke-width="0.7"/>
<line x1="441.83" y1="204.4" x2="441.83" y2="205.8" stroke="#444" stroke-width="0.7"/>
<line x1="446.14" y1="204.4" x2="446.14" y2="205.8" stroke="#444" stroke-width="0.7"/>
<line x1="450.45" y1="204.4" x2="450.45" y2="205.8" stroke="#444" stroke-width="0.7"/>
<line x1="454.76" y1="204.4" x2="454.76" y2="205.8" stroke="#444" stroke-width="0.7"/>
<line x1="459.07" y1="204.4" x2="459.07" y2="205.8" stroke="#444" stroke-width="0.7"/>
<line x1="463.38" y1="204.4" x2="463.38" y2="205.8" stroke="#444" stroke-width="0.7"/>
<line x1="467.69" y1="204.4" x2="467.69" y2="205.8" stroke="#444" stroke-width="0.7"/>
<line x1="472" y1="204.4" x2="472" y2="205.8" stroke="#444" stroke-width="0.7"/>
<line x1="476.31" y1="204.4" x2="476.31" y2="205.8" stroke="#444" stroke-width="0.7"/>
<line x1="480.62" y1="204.4" x2="480.62" y2="205.8" stroke="#444" stroke-width="0.7"/>
<line x1="484.93" y1="204.4" x2="484.93" y2="205.8" stroke="#444" stroke-width="0.7"/>
<line x1="489.24" y1="204.4" x2="489.24" y2="205.8" stroke="#444" stroke-width="0.7"/>
<line x1="493.55" y1="204.4" x2="493.55" y2="205.8" stroke="#444" stroke-width="0.7"/>
<line x1="497.86" y1="204.4" x2="497.86" y2="205.8" stroke="#444" stroke-width="0.7"/>
<line x1="502.17" y1="204.4" x2="502.17" y2="205.8" stroke="#444" stroke-width="0.7"/>
<line x1="506.48" y1="204.4" x2="506.48" y2="205.8" stroke="#444" stroke-width="0.7"/>
<line x1="510.79" y1="204.4" x2="510.79" y2="205.8" stroke="#444" stroke-width="0.7"/>
<text x="298.3" y="215.4" font-size="7.0" font-weight="normal" font-style="normal" text-anchor="middle" fill="#222" stroke="#222" stroke-width="0.18">0</text>
<text x="308.2" y="215.4" font-size="7.0" font-weight="normal" font-style="normal" text-anchor="middle" fill="#222" stroke="#222" stroke-width="0.18">1</text>
<text x="325" y="215.4" font-size="7.0" font-weight="normal" font-style="normal" text-anchor="middle" fill="#222" stroke="#222" stroke-width="0.18">3</text>
<text x="341.9" y="215.4" font-size="7.0" font-weight="normal" font-style="normal" text-anchor="middle" fill="#222" stroke="#222" stroke-width="0.18">5</text>
<text x="359.2" y="215.4" font-size="7.0" font-weight="normal" font-style="normal" text-anchor="middle" fill="#222" stroke="#222" stroke-width="0.18">7</text>
<text x="376.5" y="215.4" font-size="7.0" font-weight="normal" font-style="normal" text-anchor="middle" fill="#222" stroke="#222" stroke-width="0.18">9</text>
<text x="395" y="215.4" font-size="7.0" font-weight="normal" font-style="normal" text-anchor="middle" fill="#222" stroke="#222" stroke-width="0.18">11</text>
<text x="412" y="215.4" font-size="7.0" font-weight="normal" font-style="normal" text-anchor="middle" fill="#222" stroke="#222" stroke-width="0.18">13</text>
<text x="429.6" y="215.4" font-size="7.0" font-weight="normal" font-style="normal" text-anchor="middle" fill="#222" stroke="#222" stroke-width="0.18">15</text>
<text x="447.3" y="215.4" font-size="7.0" font-weight="normal" font-style="normal" text-anchor="middle" fill="#222" stroke="#222" stroke-width="0.18">17</text>
<text x="463.5" y="215.4" font-size="7.0" font-weight="normal" font-style="normal" text-anchor="middle" fill="#222" stroke="#222" stroke-width="0.18">19</text>
<text x="480.4" y="215.4" font-size="7.0" font-weight="normal" font-style="normal" text-anchor="middle" fill="#222" stroke="#222" stroke-width="0.18">21</text>
<text x="497" y="215.4" font-size="7.0" font-weight="normal" font-style="normal" text-anchor="middle" fill="#222" stroke="#222" stroke-width="0.18">23</text>
<text x="515" y="215.4" font-size="7.0" font-weight="normal" font-style="normal" text-anchor="middle" fill="#222" stroke="#222" stroke-width="0.18">25</text>
<text x="258" y="14.4" font-size="16.4" font-weight="bold" font-style="normal" fill="#000" textLength="12.3" lengthAdjust="spacingAndGlyphs">C</text>
<text x="0" y="0" font-size="12" font-weight="bold" text-anchor="middle" stroke="#000" stroke-width="0.3" transform="translate(267.6,117.1) rotate(-90)" textLength="59" lengthAdjust="spacingAndGlyphs">% survival</text>
<text x="288.6" y="226.1" font-size="7.6" font-weight="bold" font-style="italic" fill="#111" textLength="36.7" lengthAdjust="spacingAndGlyphs">treatment</text>
<rect x="329.4" y="221.3" width="166.9" height="4.5" fill="#99cc11"/>
<text x="354.65" y="236.6" font-size="11.0" font-weight="bold" font-style="normal" fill="#000" stroke="#000" stroke-width="0.3" textLength="126.8" lengthAdjust="spacingAndGlyphs">weeks after inoculation</text>
<line x1="297.8" y1="18.8" x2="339.4" y2="18.8" stroke="#8a8af0" stroke-width="1.3"/>
<polyline points="339.4,18.8 340.4,32.3 341,111.7 344.4,151.5 347.3,164.8 349.9,164.8 352.4,178 353.3,204.7" fill="none" stroke="#404090" stroke-width="1.05" stroke-linejoin="round" />
<path d="M340.4 30.3L342.4 32.3L340.4 34.3L338.4 32.3Z" fill="#000070"/>
<path d="M341 109.7L343 111.7L341 113.7L339 111.7Z" fill="#000070"/>
<path d="M344.4 149.5L346.4 151.5L344.4 153.5L342.4 151.5Z" fill="#000070"/>
<path d="M347.3 162.8L349.3 164.8L347.3 166.8L345.3 164.8Z" fill="#000070"/>
<path d="M349.9 162.8L351.9 164.8L349.9 166.8L347.9 164.8Z" fill="#000070"/>
<path d="M352.4 176L354.4 178L352.4 180L350.4 178Z" fill="#000070"/>
<path d="M353.3 202.7L355.3 204.7L353.3 206.7L351.3 204.7Z" fill="#000070"/>
<path d="M342.4 109.7L344.4 111.7L342.4 113.7L340.4 111.7Z" fill="#000070"/>
<polyline points="360.5,18.8 360.8,37.4 360.5,56 370.5,56 370.6,74.5 372,93.1 374.7,111.7 375.7,204.7" fill="none" stroke="#3a9a3a" stroke-width="1.1" stroke-linejoin="round" />
<rect x="358.9" y="35.5" width="3.8" height="3.8" fill="#007a00"/>
<rect x="358.6" y="54.1" width="3.8" height="3.8" fill="#007a00"/>
<rect x="368.6" y="54.1" width="3.8" height="3.8" fill="#007a00"/>
<rect x="368.7" y="72.6" width="3.8" height="3.8" fill="#007a00"/>
<rect x="370.1" y="91.2" width="3.8" height="3.8" fill="#007a00"/>
<rect x="372.8" y="109.8" width="3.8" height="3.8" fill="#007a00"/>
<rect x="373.8" y="202.8" width="3.8" height="3.8" fill="#007a00"/>
<rect x="359" y="53.9" width="12.6" height="4" fill="#007a00"/>
<polyline points="377,18.8 377.7,35.7 378,52.6 404.5,52.6 406.6,69.5 407.5,86.4 419.8,86.4 420.9,103.3 424.3,103.3 424.3,120.1 432.5,120.1 433.1,153.9 452.7,153.9 453.6,170.8 468.2,170.8 478.1,204.7" fill="none" stroke="#ff5555" stroke-width="1.2" stroke-linejoin="round" />
<path d="M377.7 33.1L380.3 37.65L375.1 37.65Z" fill="#ff0000"/>
<path d="M378 49.9L380.7 54.62L375.3 54.62Z" fill="#ff0000"/>
<path d="M380 49.9L382.7 54.62L377.3 54.62Z" fill="#ff0000"/>
<path d="M382 49.9L384.7 54.62L379.3 54.62Z" fill="#ff0000"/>
<path d="M384 49.9L386.7 54.62L381.3 54.62Z" fill="#ff0000"/>
<path d="M386 49.9L388.7 54.62L383.3 54.62Z" fill="#ff0000"/>
<path d="M388 49.9L390.7 54.62L385.3 54.62Z" fill="#ff0000"/>
<path d="M390 49.9L392.7 54.62L387.3 54.62Z" fill="#ff0000"/>
<path d="M392 49.9L394.7 54.62L389.3 54.62Z" fill="#ff0000"/>
<path d="M394 49.9L396.7 54.62L391.3 54.62Z" fill="#ff0000"/>
<path d="M396 49.9L398.7 54.62L393.3 54.62Z" fill="#ff0000"/>
<path d="M398 49.9L400.7 54.62L395.3 54.62Z" fill="#ff0000"/>
<path d="M400 49.9L402.7 54.62L397.3 54.62Z" fill="#ff0000"/>
<path d="M402 49.9L404.7 54.62L399.3 54.62Z" fill="#ff0000"/>
<path d="M404 49.9L406.7 54.62L401.3 54.62Z" fill="#ff0000"/>
<path d="M406.6 66.9L409.2 71.45L404 71.45Z" fill="#ff0000"/>
<path d="M408 83.7L410.7 88.43L405.3 88.43Z" fill="#ff0000"/>
<path d="M410 83.7L412.7 88.43L407.3 88.43Z" fill="#ff0000"/>
<path d="M412 83.7L414.7 88.43L409.3 88.43Z" fill="#ff0000"/>
<path d="M414 83.7L416.7 88.43L411.3 88.43Z" fill="#ff0000"/>
<path d="M416 83.7L418.7 88.43L413.3 88.43Z" fill="#ff0000"/>
<path d="M418 83.7L420.7 88.43L415.3 88.43Z" fill="#ff0000"/>
<path d="M420 83.7L422.7 88.43L417.3 88.43Z" fill="#ff0000"/>
<path d="M420.9 100.9L423.3 105.1L418.5 105.1Z" fill="#ff0000"/>
<path d="M424.3 100.9L426.7 105.1L421.9 105.1Z" fill="#ff0000"/>
<path d="M424 117.4L426.7 122.12L421.3 122.12Z" fill="#ff0000"/>
<path d="M426 117.4L428.7 122.12L423.3 122.12Z" fill="#ff0000"/>
<path d="M428 117.4L430.7 122.12L425.3 122.12Z" fill="#ff0000"/>
<path d="M430 117.4L432.7 122.12L427.3 122.12Z" fill="#ff0000"/>
<path d="M432 117.4L434.7 122.12L429.3 122.12Z" fill="#ff0000"/>
<path d="M433 151.2L435.7 155.93L430.3 155.93Z" fill="#ff0000"/>
<path d="M435 151.2L437.7 155.93L432.3 155.93Z" fill="#ff0000"/>
<path d="M437 151.2L439.7 155.93L434.3 155.93Z" fill="#ff0000"/>
<path d="M439 151.2L441.7 155.93L436.3 155.93Z" fill="#ff0000"/>
<path d="M441 151.2L443.7 155.93L438.3 155.93Z" fill="#ff0000"/>
<path d="M443 151.2L445.7 155.93L440.3 155.93Z" fill="#ff0000"/>
<path d="M445 151.2L447.7 155.93L442.3 155.93Z" fill="#ff0000"/>
<path d="M447 151.2L449.7 155.93L444.3 155.93Z" fill="#ff0000"/>
<path d="M449 151.2L451.7 155.93L446.3 155.93Z" fill="#ff0000"/>
<path d="M451 151.2L453.7 155.93L448.3 155.93Z" fill="#ff0000"/>
<path d="M453.6 168.4L456 172.6L451.2 172.6Z" fill="#ff0000"/>
<path d="M455.6 168.4L458 172.6L453.2 172.6Z" fill="#ff0000"/>
<path d="M457.6 168.4L460 172.6L455.2 172.6Z" fill="#ff0000"/>
<path d="M468.2 168.4L470.6 172.6L465.8 172.6Z" fill="#ff0000"/>
<path d="M478.1 202.4L480.4 206.42L475.8 206.42Z" fill="#ff0000"/>
<polyline points="400.5,18.8 400,35.4 407.8,35.4 407,52.6 422.8,52.6 423.1,69.5 424.7,103.3 433.8,103.3 433.8,120.1 440.8,120.1 441,137 496.5,137 509.2,153.9 513.4,204.5" fill="none" stroke="#3a3aff" stroke-width="1.2" stroke-linejoin="round" />
<rect x="337" y="17" width="18.3" height="3.8" fill="#1a10d0"/>
<rect x="358.2" y="17" width="42.5" height="3.8" fill="#1a10d0"/>
<rect x="346" y="17.3" width="6" height="3.2" fill="#5a1090" opacity="0.6"/>
<path d="M398.2 33.6L401.8 37.2M398.2 37.2L401.8 33.6" stroke="#1515e0" stroke-width="1.2" fill="none"/>
<path d="M400.2 33.6L403.8 37.2M400.2 37.2L403.8 33.6" stroke="#1515e0" stroke-width="1.2" fill="none"/>
<path d="M402.2 33.6L405.8 37.2M402.2 37.2L405.8 33.6" stroke="#1515e0" stroke-width="1.2" fill="none"/>
<path d="M404.2 33.6L407.8 37.2M404.2 37.2L407.8 33.6" stroke="#1515e0" stroke-width="1.2" fill="none"/>
<path d="M406.2 33.6L409.8 37.2M406.2 37.2L409.8 33.6" stroke="#1515e0" stroke-width="1.2" fill="none"/>
<path d="M405.2 50.8L408.8 54.4M405.2 54.4L408.8 50.8" stroke="#1515e0" stroke-width="1.2" fill="none"/>
<path d="M407.2 50.8L410.8 54.4M407.2 54.4L410.8 50.8" stroke="#1515e0" stroke-width="1.2" fill="none"/>
<path d="M409.2 50.8L412.8 54.4M409.2 54.4L412.8 50.8" stroke="#1515e0" stroke-width="1.2" fill="none"/>
<path d="M411.2 50.8L414.8 54.4M411.2 54.4L414.8 50.8" stroke="#1515e0" stroke-width="1.2" fill="none"/>
<path d="M413.2 50.8L416.8 54.4M413.2 54.4L416.8 50.8" stroke="#1515e0" stroke-width="1.2" fill="none"/>
<path d="M415.2 50.8L418.8 54.4M415.2 54.4L418.8 50.8" stroke="#1515e0" stroke-width="1.2" fill="none"/>
<path d="M417.2 50.8L420.8 54.4M417.2 54.4L420.8 50.8" stroke="#1515e0" stroke-width="1.2" fill="none"/>
<path d="M419.2 50.8L422.8 54.4M419.2 54.4L422.8 50.8" stroke="#1515e0" stroke-width="1.2" fill="none"/>
<path d="M421.3 67.7L424.9 71.3M421.3 71.3L424.9 67.7" stroke="#1515e0" stroke-width="1.2" fill="none"/>
<path d="M422.9 101.5L426.5 105.1M422.9 105.1L426.5 101.5" stroke="#1515e0" stroke-width="1.2" fill="none"/>
<path d="M424.9 101.5L428.5 105.1M424.9 105.1L428.5 101.5" stroke="#1515e0" stroke-width="1.2" fill="none"/>
<path d="M426.9 101.5L430.5 105.1M426.9 105.1L430.5 101.5" stroke="#1515e0" stroke-width="1.2" fill="none"/>
<path d="M428.9 101.5L432.5 105.1M428.9 105.1L432.5 101.5" stroke="#1515e0" stroke-width="1.2" fill="none"/>
<path d="M430.9 101.5L434.5 105.1M430.9 105.1L434.5 101.5" stroke="#1515e0" stroke-width="1.2" fill="none"/>
<path d="M432 101.5L435.6 105.1M432 105.1L435.6 101.5" stroke="#1515e0" stroke-width="1.2" fill="none"/>
<path d="M432 118.3L435.6 121.9M432 121.9L435.6 118.3" stroke="#1515e0" stroke-width="1.2" fill="none"/>
<path d="M434 118.3L437.6 121.9M434 121.9L437.6 118.3" stroke="#1515e0" stroke-width="1.2" fill="none"/>
<path d="M436 118.3L439.6 121.9M436 121.9L439.6 118.3" stroke="#1515e0" stroke-width="1.2" fill="none"/>
<path d="M438 118.3L441.6 121.9M438 121.9L441.6 118.3" stroke="#1515e0" stroke-width="1.2" fill="none"/>
<path d="M439 118.3L442.6 121.9M439 121.9L442.6 118.3" stroke="#1515e0" stroke-width="1.2" fill="none"/>
<path d="M439.2 135.2L442.8 138.8M439.2 138.8L442.8 135.2" stroke="#1515e0" stroke-width="1.2" fill="none"/>
<path d="M441.2 135.2L444.8 138.8M441.2 138.8L444.8 135.2" stroke="#1515e0" stroke-width="1.2" fill="none"/>
<path d="M443.2 135.2L446.8 138.8M443.2 138.8L446.8 135.2" stroke="#1515e0" stroke-width="1.2" fill="none"/>
<path d="M445.2 135.2L448.8 138.8M445.2 138.8L448.8 135.2" stroke="#1515e0" stroke-width="1.2" fill="none"/>
<path d="M447.2 135.2L450.8 138.8M447.2 138.8L450.8 135.2" stroke="#1515e0" stroke-width="1.2" fill="none"/>
<path d="M449.2 135.2L452.8 138.8M449.2 138.8L452.8 135.2" stroke="#1515e0" stroke-width="1.2" fill="none"/>
<path d="M451.2 135.2L454.8 138.8M451.2 138.8L454.8 135.2" stroke="#1515e0" stroke-width="1.2" fill="none"/>
<path d="M453.2 135.2L456.8 138.8M453.2 138.8L456.8 135.2" stroke="#1515e0" stroke-width="1.2" fill="none"/>
<path d="M455.2 135.2L458.8 138.8M455.2 138.8L458.8 135.2" stroke="#1515e0" stroke-width="1.2" fill="none"/>
<path d="M466.4 135.2L470 138.8M466.4 138.8L470 135.2" stroke="#1515e0" stroke-width="1.2" fill="none"/>
<path d="M476.3 135.2L479.9 138.8M476.3 138.8L479.9 135.2" stroke="#1515e0" stroke-width="1.2" fill="none"/>
<path d="M489 135.2L492.6 138.8M489 138.8L492.6 135.2" stroke="#1515e0" stroke-width="1.2" fill="none"/>
<path d="M494.7 135.2L498.3 138.8M494.7 138.8L498.3 135.2" stroke="#1515e0" stroke-width="1.2" fill="none"/>
<path d="M507.4 152.1L511 155.7M507.4 155.7L511 152.1" stroke="#1515e0" stroke-width="1.2" fill="none"/>
<path d="M511.6 202.7L515.2 206.3M511.6 206.3L515.2 202.7" stroke="#1515e0" stroke-width="1.2" fill="none"/>
<path d="M297.6 16.4L300.1 18.9L297.6 21.4L295.1 18.9Z" fill="#4a1a70"/>
<line x1="306" y1="137.1" x2="322.5" y2="137.1" stroke="#404090" stroke-width="1.2"/>
<path d="M314.2 135L316.3 137.1L314.2 139.2L312.1 137.1Z" fill="#000070"/>
<text x="325.6" y="140.8" font-size="10.3" font-weight="bold" font-style="normal" text-anchor="start" fill="#000" >0</text>
<line x1="306" y1="152.5" x2="322.5" y2="152.5" stroke="#3a9a3a" stroke-width="1.2"/>
<rect x="312.4" y="150.7" width="3.6" height="3.6" fill="#007a00"/>
<text x="325.6" y="156.2" font-size="10.3" font-weight="bold" font-style="normal" text-anchor="start" fill="#000" >1</text>
<line x1="306" y1="168" x2="322.5" y2="168" stroke="#ff5555" stroke-width="1.2"/>
<path d="M314.2 165.6L316.6 169.8L311.8 169.8Z" fill="#ff0000"/>
<text x="325.6" y="171.7" font-size="10.3" font-weight="bold" font-style="normal" text-anchor="start" fill="#000" >3</text>
<line x1="306" y1="183.4" x2="322.5" y2="183.4" stroke="#3a3aff" stroke-width="1.2"/>
<path d="M312.3 181.5L316.1 185.3M312.3 185.3L316.1 181.5" stroke="#1515e0" stroke-width="0.9" fill="none"/>
<text x="325.6" y="187.1" font-size="10.3" font-weight="bold" font-style="normal" text-anchor="start" fill="#000" >10</text>
</svg></body></html>
